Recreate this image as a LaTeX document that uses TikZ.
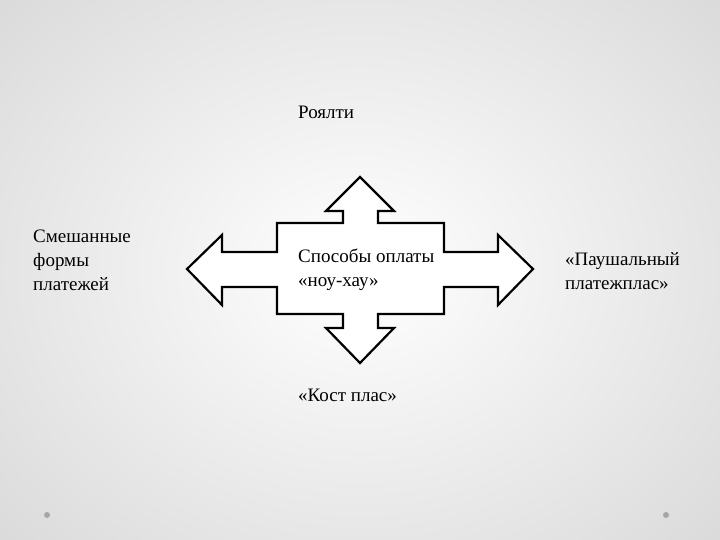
\documentclass[tikz,border=0pt]{standalone}
\usepackage{fontspec}
\setmainfont{Liberation Serif}
\begin{document}
\begin{tikzpicture}[x=1pt,y=-1pt,
  lbl/.style={anchor=north west,inner sep=0pt,align=left,font=\fontsize{19}{24}\selectfont},
  dotm/.style={circle,fill=gray!70,inner sep=0pt,minimum size=6pt}]
\useasboundingbox (0,0) rectangle (720,540);
\shade[inner color=white,outer color=gray!28] (-120,-120) rectangle (840,660);
\draw[line width=2.2pt,line join=miter,fill=white]
 (187,269) -- (222,235) -- (222,252) -- (277,252) -- (277,223) -- (343,223) -- (343,211)
 -- (326,211) -- (360,177) -- (394,211) -- (378,211) -- (378,223) -- (444,223) -- (444,252)
 -- (498,252) -- (498,235) -- (533,269) -- (498,305) -- (498,287) -- (444,287) -- (444,314)
 -- (378,314) -- (378,328) -- (394,328) -- (360,363) -- (326,328) -- (343,328) -- (343,314)
 -- (277,314) -- (277,287) -- (222,287) -- (222,305) -- cycle;
\node[lbl] (roy) at (298,106) {Роялти};
\node[lbl] (mix) at (33,230) {Смешанные\\формы\\платежей};
\node[lbl] (mid) at (298,249) {Способы оплаты\\«ноу-хау»};
\node[lbl] (pau) at (565,252) {«Паушальный\\платежплас»};
\node[lbl] (cost) at (298,389) {«Кост плас»};
\node[dotm] (d1) at (47,515) {};
\node[dotm] (d2) at (666,515) {};
\end{tikzpicture}
\end{document}
